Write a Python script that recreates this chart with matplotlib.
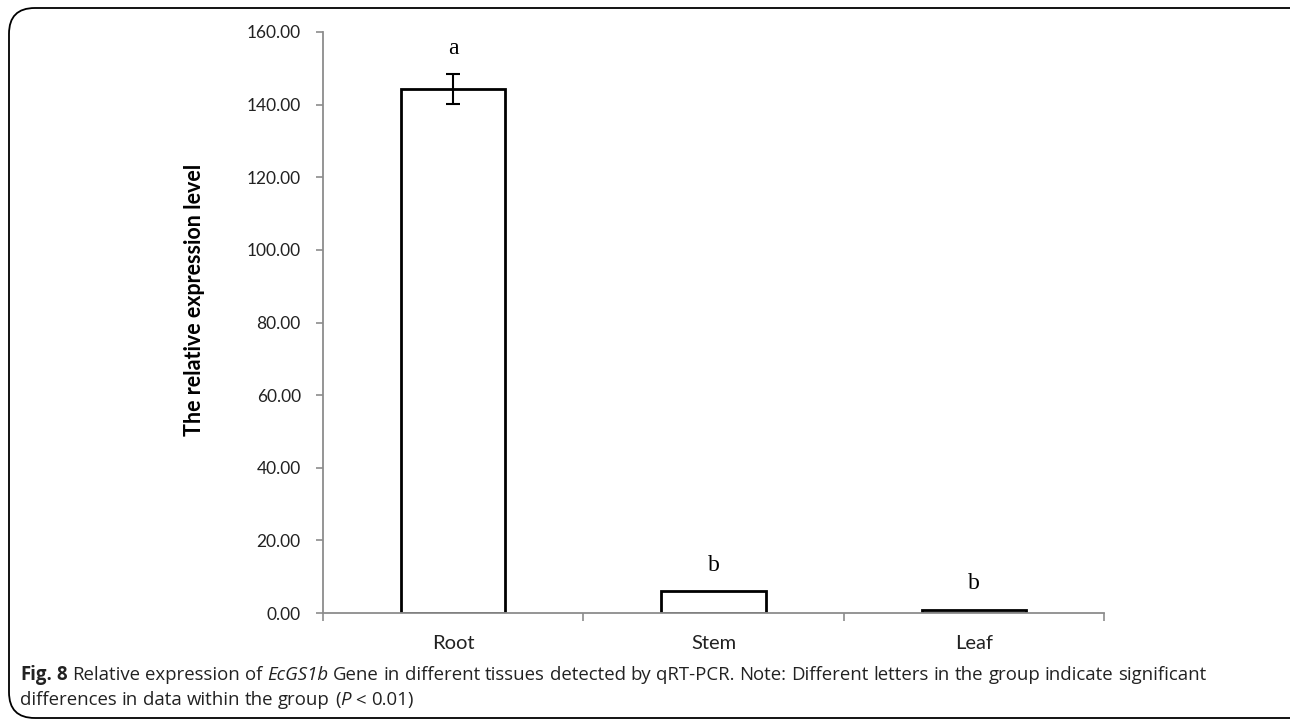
import numpy as np
import matplotlib.pyplot as plt
from matplotlib.patches import FancyBboxPatch

# data
tissues = ["Root", "Stem", "Leaf"]
expression = [144.3, 6.0, 0.9]
errors = [4.0, 0.0, 0.0]
letters = ["a", "b", "b"]
y_ticks = [0, 20, 40, 60, 80, 100, 120, 140, 160]

plt.rcParams['font.family'] = ['Lato', 'DejaVu Sans']

fig = plt.figure(figsize=(12.9, 7.22), dpi=100)

# rounded frame around the panel
frame = FancyBboxPatch((9 / 1290, 4 / 722), 1.2, 710 / 722,
                       boxstyle="round,pad=0,rounding_size=0.02",
                       transform=fig.transFigure, fill=False,
                       edgecolor="black", linewidth=1.3, mutation_aspect=1290 / 722)
fig.patches.append(frame)

ax = fig.add_axes([323 / 1290, 1 - 613 / 722, 781 / 1290, 581 / 722])

x = np.arange(len(tissues))
ax.bar(x, expression, width=0.4, color="white", edgecolor="black",
       linewidth=2, zorder=2)
ax.errorbar(x[:1], expression[:1], yerr=errors[:1], fmt="none",
            ecolor="black", elinewidth=1.5, capsize=5, capthick=1.5, zorder=3)

for xi, v, e, lab in zip(x, expression, errors, letters):
    ax.text(xi, v + e + 7.2, lab, ha="center", va="center",
            fontsize=17, family="Liberation Serif")

ax.set_xlim(-0.5, 2.5)
ax.set_ylim(0, 160)
ax.set_yticks(y_ticks)
ax.set_yticklabels([f"{t:.2f}" for t in y_ticks])
ax.set_xticks([-0.5, 0.5, 1.5, 2.5])
ax.set_xticklabels([])
ax.set_xticks(x, minor=True)
ax.set_xticklabels(tissues, minor=True)

for s in ["top", "right"]:
    ax.spines[s].set_visible(False)
for s in ["left", "bottom"]:
    ax.spines[s].set_color("#8c8c8c")
    ax.spines[s].set_linewidth(1.3)

ax.tick_params(axis="y", direction="out", length=5, width=1.2, color="#8c8c8c",
               labelsize=12.5, pad=11, labelcolor="#222222")
ax.tick_params(axis="x", which="major", direction="out", length=6, width=1.2,
               color="#8c8c8c")
ax.tick_params(axis="x", which="minor", length=0, labelsize=14.5, pad=16,
               labelcolor="#222222")

ax.set_ylabel("The relative expression level", fontsize=15.5, fontweight="bold")
ax.yaxis.set_label_coords(-0.151, 0.539)

# caption, drawn as runs so bold/italic parts sit inline
renderer = fig.canvas.get_renderer()
cap = dict(fontsize=13.4, family="Open Sans", va="baseline", color="#222222")


def text_width(s, **kw):
    t = fig.text(0, 0, s, **kw)
    w = t.get_window_extent(renderer).width
    t.remove()
    return w


space = text_width("a a", **cap) - text_width("aa", **cap)


def draw_runs(x0, y0, runs):
    xpos = x0 * fig.bbox.width
    for s, style in runs:
        kw = dict(cap, **style)
        words = s.split(" ")
        for j, w in enumerate(words):
            if w:
                t = fig.text(xpos / fig.bbox.width, y0, w, **kw)
                xpos += t.get_window_extent(renderer).width
            if j < len(words) - 1:
                xpos += space


line1 = [("Fig. 8", {"fontweight": "bold"}),
         (" Relative expression of ", {}),
         ("EcGS1b", {"style": "italic"}),
         (" Gene in different tissues detected by qRT-PCR. Note: Different letters "
          "in the group indicate significant", {})]
line2 = [("differences in data within the group (", {}),
         ("P", {"style": "italic"}),
         (" < 0.01)", {})]

draw_runs(20 / 1290, 1 - 680 / 722, line1)
draw_runs(20 / 1290, 1 - 705 / 722, line2)

fig.savefig("out.png", dpi=100)
